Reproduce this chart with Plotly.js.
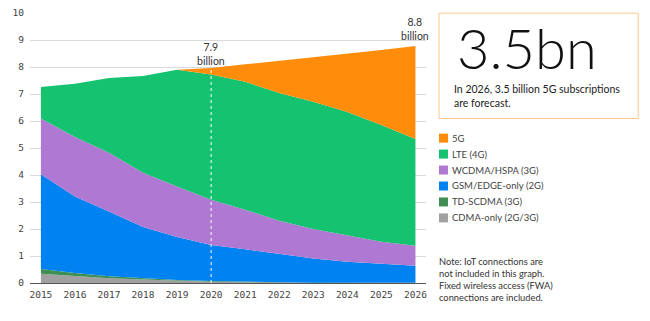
<!DOCTYPE html>
<html><head><meta charset="utf-8">
<script src="https://cdn.plot.ly/plotly-3.0.1.min.js"></script>
<style>html,body{margin:0;padding:0;background:#fff}#chart{width:650px;height:321px}</style>
</head><body><div id="chart"></div>
<script>
// ---- data (billions of mobile subscriptions) ----
const years = [2015,2016,2017,2018,2019,2020,2021,2022,2023,2024,2025,2026];
const cdma   = [0.34,0.26,0.18,0.13,0.08,0.05,0.03,0.02,0.01,0.01,0.01,0.01];
const tdscdma= [0.18,0.11,0.07,0.05,0.03,0.02,0.01,0.01,0.00,0.00,0.00,0.00];
const gsm    = [3.51,2.83,2.40,1.89,1.59,1.34,1.21,1.04,0.90,0.78,0.70,0.63];
const wcdma  = [2.06,2.21,2.17,2.01,1.87,1.67,1.46,1.24,1.09,0.98,0.82,0.74];
const lte    = [1.17,1.97,2.77,3.59,4.33,4.64,4.74,4.73,4.71,4.56,4.32,3.95];
const g5     = [0.00,0.00,0.00,0.00,0.00,0.24,0.65,1.19,1.66,2.17,2.78,3.45];
const seriesNames = ["CDMA-only (2G/3G)","TD-SCDMA (3G)","GSM/EDGE-only (2G)","WCDMA/HSPA (3G)","LTE (4G)","5G"];
const seriesColors = ["#a0a0a0","#3f8f55","#0082f0","#af78d2","#14c26f","#ff8c0a"];
const seriesValues = [cdma,tdscdma,gsm,wcdma,lte,g5];
const yTicks = [0,1,2,3,4,5,6,7,8,9,10];
const calloutYears = [2020,2026];
const calloutLabels = ["7.9<br>billion","8.8<br>billion"];
const bigNumber = "3.5bn";
const bigCaption = "In 2026, 3.5 billion 5G subscriptions<br>are forecast.";
const noteText = "Note: IoT connections are<br>not included in this graph.<br>Fixed wireless access (FWA)<br>connections are included.";

// ---- geometry helpers ----
const W=650,H=321, L=30, R=223.5, T=12.5, B=37.7;
const PW=W-L-R, PH=H-T-B;
const px = x => (x-L)/PW;
const py = y => (H-B-y)/PH;

const totals = years.map((_,i)=>seriesValues.reduce((s,a)=>s+a[i],0));

const traces = seriesValues.map((v,k)=>({
  x: years, y: v, type:'scatter', mode:'lines', stackgroup:'one',
  name: seriesNames[k], fillcolor: seriesColors[k],
  line:{width:0, color:seriesColors[k]}, hoverinfo:'skip', showlegend:false
}));

const txtFont = {family:'Lato, "Noto Sans", sans-serif', size:10.5, color:'#333'};
const annotations = [];
calloutYears.forEach((yr,i)=>{
  const idx = years.indexOf(yr);
  annotations.push({x:yr, y: totals[idx]+ (i===0?-0.04:0.06), xref:'x', yref:'y', text:calloutLabels[i],
    showarrow:false, yanchor:'bottom', xanchor:'center', font:txtFont, align:'center'});
});
annotations.push({x:px(456), y:py(47), xref:'paper', yref:'paper', text:bigNumber, showarrow:false,
  xanchor:'left', yanchor:'middle', font:{family:'Lato, sans-serif', size:56, color:'#111', weight:300}});
annotations.push({x:px(453), y:py(96), xref:'paper', yref:'paper', text:bigCaption, showarrow:false,
  xanchor:'left', yanchor:'middle', align:'left', font:{family:'Lato, sans-serif', size:10.5, color:'#222'}});
annotations.push({x:px(438), y:py(279.5), xref:'paper', yref:'paper', text:noteText, showarrow:false,
  xanchor:'left', yanchor:'middle', align:'left', font:{family:'Lato, sans-serif', size:9.3, color:'#333'}});

const shapes = [];
// dashed line at 2020
const i20 = years.indexOf(2020);
shapes.push({type:'line', xref:'x', yref:'y', x0:2020, x1:2020, y0:0, y1:totals[i20]-0.02,
  line:{color:'#ffffff', width:1, dash:'3px,3px'}});
// callout box
shapes.push({type:'rect', xref:'paper', yref:'paper', x0:px(439.5), x1:px(639), y0:py(12.7), y1:py(118.3),
  line:{color:'#fcc88f', width:1}, fillcolor:'rgba(0,0,0,0)'});
// custom legend (top to bottom: 5G ... CDMA)
for (let k=seriesNames.length-1, row=0; k>=0; k--, row++){
  const cy = 138 + row*16;
  shapes.push({type:'rect', xref:'paper', yref:'paper', x0:px(439.5), x1:px(448.5), y0:py(cy-4.5), y1:py(cy+4.5),
    line:{width:0}, fillcolor:seriesColors[k]});
  annotations.push({x:px(451), y:py(cy), xref:'paper', yref:'paper', text:seriesNames[k], showarrow:false,
    xanchor:'left', yanchor:'middle', font:{family:'Lato, sans-serif', size:9.5, color:'#444'}});
}

const tickFont = {family:'"DejaVu Sans Mono", monospace', size:9.5, color:'#444'};
const layout = {
  width:W, height:H, margin:{l:L, r:R, t:T, b:B}, paper_bgcolor:'#fff', plot_bgcolor:'#fff',
  showlegend:false,
  xaxis:{range:[2014.68, 2026.31], tickvals:years, ticktext:years.map(String), showgrid:false, zeroline:false,
    showline:true, linecolor:'#555', linewidth:1.2, tickfont:tickFont, ticks:'', ticklabelstandoff:2, fixedrange:true},
  yaxis:{range:[0,10], tickvals:yTicks, showgrid:true, gridcolor:'#d8d8d8', gridwidth:1, zeroline:false,
    showline:false, tickfont:tickFont, ticks:'', ticklabelstandoff:5, fixedrange:true},
  annotations, shapes
};
Plotly.newPlot('chart', traces, layout, {staticPlot:true, displayModeBar:false});
</script></body></html>
